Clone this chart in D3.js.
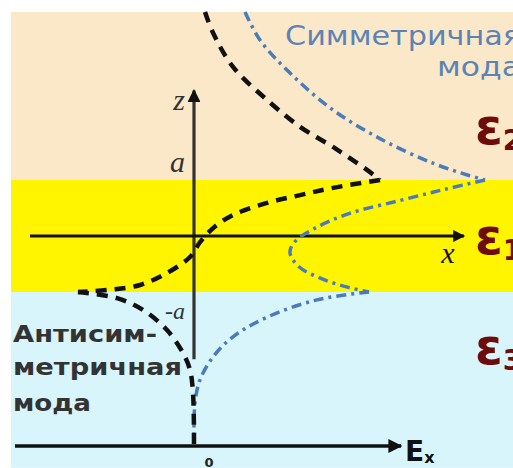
<!DOCTYPE html>
<html>
<head>
<meta charset="utf-8">
<script src="https://cdn.jsdelivr.net/npm/d3@7"></script>
<style>
    html, body { margin: 0; padding: 0; background: #fff; }
    svg { display: block; }
</style>
</head>
<body>
<div id="chart"></div>
<script>
// Field profile Ex(z). z in units of a (core from -a to a), Ex in arbitrary units.
// Symmetric mode (blue dash-dot), one array per layer
const symTop = [[1.02, 4.0], [1.32, 3.5], [1.92, 2.91], [2.78, 2.25], [3.78, 1.71], [4.78, 1.30], [5.5, 1.08], [5.82, 1.0]];
const symCore = [[5.82, 1.0], [5.0, 0.83], [4.1, 0.63], [3.1, 0.4], [2.4, 0.13], [2.0, -0.12], [1.92, -0.3], [2.1, -0.55], [2.6, -0.78], [3.1, -0.92], [3.5, -1.0]];
const symBottom = [[3.5, -1.0], [2.46, -1.14], [1.46, -1.45], [0.78, -1.80], [0.38, -2.16], [0.12, -2.57], [0.02, -2.98], [0.0, -3.75]];

// Antisymmetric mode (black dashed)
const antiTop = [[0.22, 4.0], [0.38, 3.63], [0.78, 3.02], [1.46, 2.43], [2.12, 1.95], [2.78, 1.59], [3.46, 1.18], [3.72, 1.0]];
const antiCore = [[3.72, 1.0], [2.78, 0.86], [2.12, 0.73], [1.46, 0.59], [0.78, 0.375], [0.38, 0.14], [0.12, -0.11], [-0.08, -0.375], [-0.54, -0.66], [-1.08, -0.875], [-1.68, -0.96], [-2.32, -1.0]];
const antiBottom = [[-2.32, -1.0], [-1.54, -1.11], [-1.02, -1.32], [-0.54, -1.68], [-0.22, -2.09], [-0.08, -2.39], [-0.02, -2.80], [0.0, -3.75]];

// Layers (z limits) and their labels
const layerNames = ["2", "1", "3"];
const layerBounds = [[4.0, 1], [1, -1], [-1, -4.14]];
const layerColors = ["#fbe8c9", "#fff500", "#d7f5fb"];

// Axis ticks
const zTicks = [1, -1];
const zTickLabels = ["a", "-a"];

const width = 513, height = 468;
let svg, x, z, line;

function setupChart() {
    svg = d3.select("#chart")
        .append("svg")
        .attr("width", width)
        .attr("height", height);

    // Ex scale: 0 on the z axis, 50 px per unit
    x = d3.scaleLinear().domain([0, 1]).range([194, 244]);
    // z scale: core between y=180 and y=292
    z = d3.scaleLinear().domain([-1, 1]).range([292, 180]);

    line = d3.line()
        .x(d => x(d[0]))
        .y(d => z(d[1]))
        .curve(d3.curveCatmullRom.alpha(0.5));

    const defs = svg.append("defs");
    defs.append("marker")
        .attr("id", "arrow")
        .attr("viewBox", "0 0 10 10")
        .attr("refX", 9).attr("refY", 5)
        .attr("markerWidth", 4.5).attr("markerHeight", 4)
        .attr("markerUnits", "strokeWidth")
        .attr("orient", "auto")
        .append("path")
        .attr("d", "M0,0 L10,5 L0,10 Z")
        .attr("fill", "#111");

    // Layers
    svg.selectAll(".layer")
        .data(layerBounds)
        .enter()
        .append("rect")
        .attr("class", "layer")
        .attr("x", 11)
        .attr("y", d => z(d[0]))
        .attr("width", width - 11)
        .attr("height", d => z(d[1]) - z(d[0]))
        .attr("fill", (d, i) => layerColors[i]);

    drawAxes();
    drawCurves();
    drawLabels();
}

function drawAxes() {
    // z axis
    svg.append("line")
        .attr("x1", x(0)).attr("x2", x(0))
        .attr("y1", z(-2.2)).attr("y2", z(2.6))
        .attr("stroke", "#333")
        .attr("stroke-width", 3.2)
        .attr("marker-end", "url(#arrow)");

    // x axis (through the core centre)
    svg.append("line")
        .attr("x1", x(-3.28)).attr("x2", x(5.4))
        .attr("y1", z(0)).attr("y2", z(0))
        .attr("stroke", "#111")
        .attr("stroke-width", 3)
        .attr("marker-end", "url(#arrow)");

    // Ex axis at the bottom
    svg.append("line")
        .attr("x1", x(-3.58)).attr("x2", x(4.14))
        .attr("y1", z(-3.75)).attr("y2", z(-3.75))
        .attr("stroke", "#111")
        .attr("stroke-width", 3.5)
        .attr("marker-end", "url(#arrow)");

    // Ticks a / -a
    svg.selectAll(".z-tick")
        .data(zTicks)
        .enter()
        .append("text")
        .attr("class", "z-tick")
        .attr("x", x(0) - 9)
        .attr("y", d => z(d) + (d > 0 ? -8 : 27))
        .attr("text-anchor", "end")
        .style("font-family", "Liberation Serif")
        .style("font-style", "italic")
        .style("font-size", (d, i) => i === 0 ? "30px" : "24px")
        .style("fill", "#333")
        .text((d, i) => zTickLabels[i]);

    svg.append("text")
        .attr("x", x(0) - 9).attr("y", 110)
        .attr("text-anchor", "end")
        .style("font-family", "Liberation Serif")
        .style("font-style", "italic")
        .style("font-size", "30px")
        .style("fill", "#333")
        .text("z");

    svg.append("text")
        .attr("x", 448).attr("y", 263)
        .attr("text-anchor", "middle")
        .style("font-family", "Liberation Serif")
        .style("font-style", "italic")
        .style("font-size", "30px")
        .style("fill", "#111")
        .text("x");

    svg.append("text")
        .attr("x", 209).attr("y", 467)
        .attr("text-anchor", "middle")
        .style("font-family", "DejaVu Sans")
        .style("font-weight", "bold")
        .style("font-size", "13px")
        .style("fill", "#222")
        .text("0");

    const ex = svg.append("text")
        .attr("x", 405).attr("y", 461)
        .style("font-family", "DejaVu Sans")
        .style("font-weight", "bold")
        .style("fill", "#111");
    ex.append("tspan").style("font-size", "28px").text("E");
    ex.append("tspan").style("font-size", "16px").attr("dy", 2).text("x");
}

function drawCurves() {
    // Blue dash-dot: symmetric mode
    [symTop, symCore, symBottom].forEach(seg => {
        svg.append("path")
            .datum(seg)
            .attr("d", line)
            .attr("fill", "none")
            .attr("stroke", "#4a7cbc")
            .attr("stroke-width", 3.5)
            .attr("stroke-dasharray", "10,5,3,5");
    });

    // Black dashed: antisymmetric mode
    [antiTop, antiCore, antiBottom].forEach(seg => {
        svg.append("path")
            .datum(seg)
            .attr("d", line)
            .attr("fill", "none")
            .attr("stroke", "#111")
            .attr("stroke-width", 4.5)
            .attr("stroke-dasharray", "11,8");
    });
}

function drawLabels() {
    // ε labels, cut by the right border
    svg.selectAll(".eps")
        .data(layerNames)
        .enter()
        .append("text")
        .attr("class", "eps")
        .attr("x", 475)
        .attr("y", (d, i) => [144, 254, 364][i])
        .style("font-family", "DejaVu Sans")
        .style("font-weight", "bold")
        .style("fill", "#6e0b0b")
        .each(function (d) {
            const t = d3.select(this);
            t.append("tspan").style("font-size", "50px").text("ε");
            t.append("tspan").style("font-size", "28px").attr("dy", 6).text(d);
        });

    // Mode names
    svg.append("text")
        .attr("x", 285).attr("y", 45)
        .attr("textLength", 236)
        .attr("lengthAdjust", "spacingAndGlyphs")
        .style("font-family", "DejaVu Sans")
        .style("font-size", "27px")
        .style("fill", "#5b84b4")
        .text("Симметричная");
    svg.append("text")
        .attr("x", 437).attr("y", 76)
        .attr("textLength", 84)
        .attr("lengthAdjust", "spacingAndGlyphs")
        .style("font-family", "DejaVu Sans")
        .style("font-size", "27px")
        .style("fill", "#5b84b4")
        .text("мода");

    const anti = [["Антисим-", 342, 144], ["метричная", 375, 169], ["мода", 411, 78]];
    svg.selectAll(".anti")
        .data(anti)
        .enter()
        .append("text")
        .attr("class", "anti")
        .attr("x", 13)
        .attr("y", d => d[1])
        .attr("textLength", d => d[2])
        .attr("lengthAdjust", "spacingAndGlyphs")
        .style("font-family", "DejaVu Sans")
        .style("font-weight", "bold")
        .style("font-size", "23px")
        .style("fill", "#333")
        .text(d => d[0]);
}

setupChart();
</script>
</body>
</html>
